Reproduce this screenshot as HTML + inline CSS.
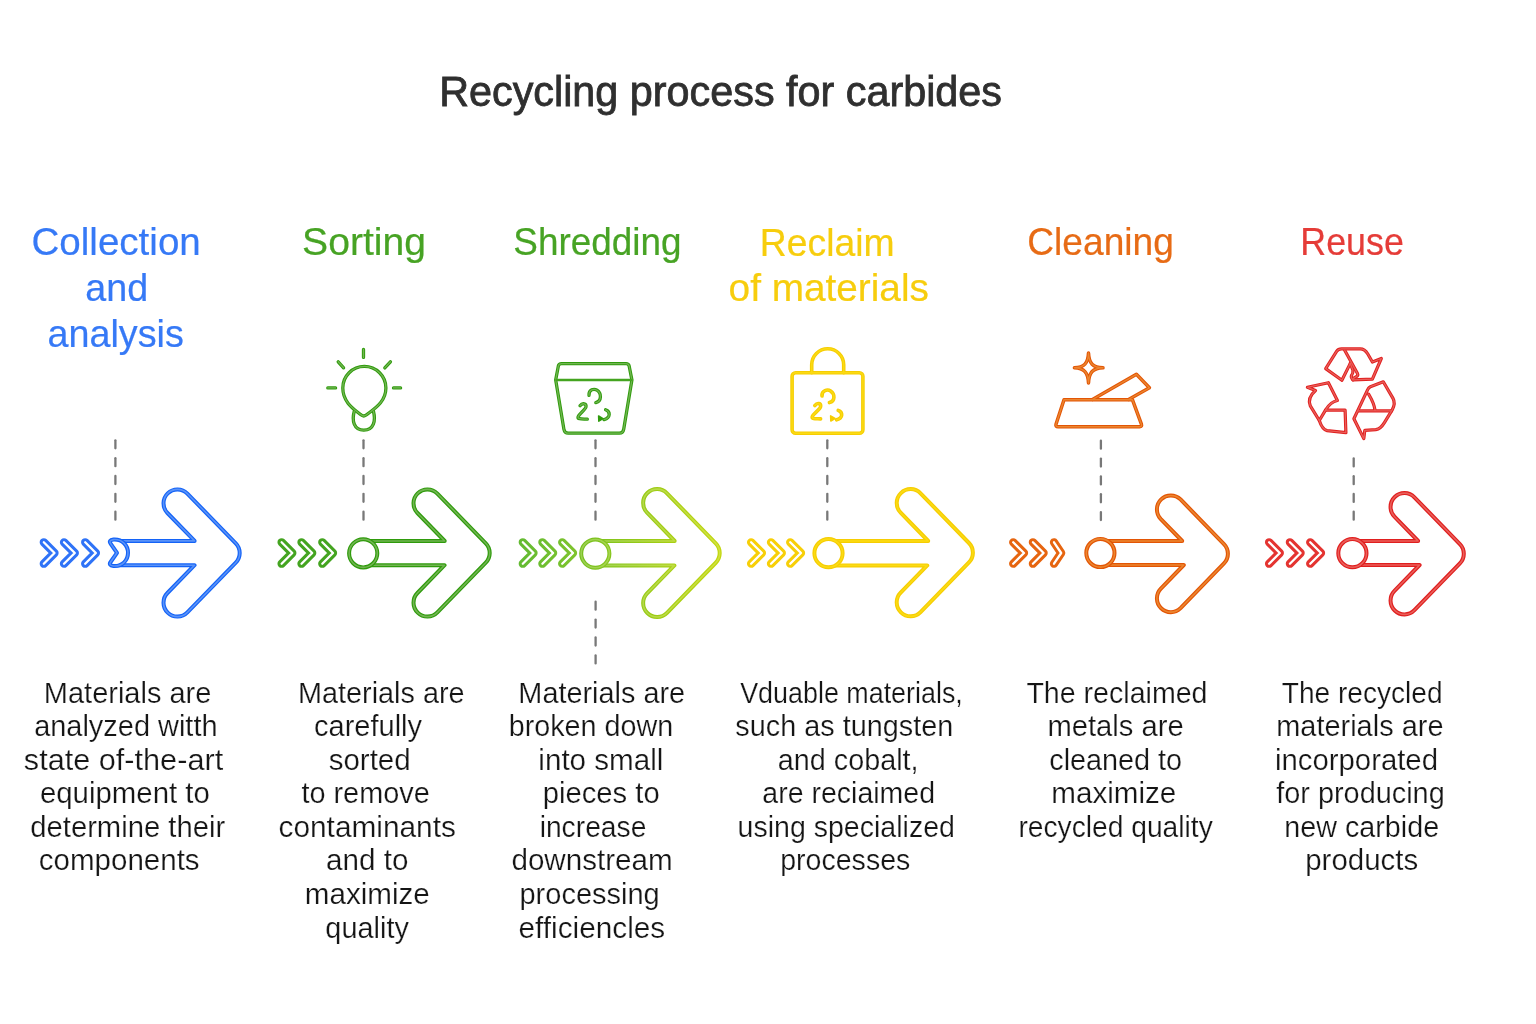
<!DOCTYPE html>
<html lang="en"><head><meta charset="utf-8"><title>Recycling process for carbides</title>
<style>
html,body{margin:0;padding:0;background:#fff;width:1536px;height:1024px;overflow:hidden}
svg{display:block}
text{font-family:"Liberation Sans",sans-serif;white-space:pre}
.ttl{stroke:#2e2e2e;stroke-width:.8px}
.hd{stroke-width:.22px}
.bd{stroke:#fff;stroke-width:.22px}
.shape path,.ic{fill:none;stroke-linecap:round;stroke-linejoin:round}
.dash line{stroke:#787878;stroke-width:2.3;stroke-linecap:round}
</style></head><body>
<svg width="1536" height="1024" viewBox="0 0 1536 1024">
<defs><linearGradient id="g3m" gradientUnits="userSpaceOnUse" x1="518" y1="0" x2="722" y2="0"><stop offset="0" stop-color="#62ba32"/><stop offset="0.45" stop-color="#8fc92a"/><stop offset="1" stop-color="#c6d81c"/></linearGradient>
<linearGradient id="g3" gradientUnits="userSpaceOnUse" x1="518" y1="0" x2="722" y2="0"><stop offset="0" stop-color="#52b222"/><stop offset="0.45" stop-color="#85c51c"/><stop offset="1" stop-color="#c2d60c"/></linearGradient>
<linearGradient id="g3c" gradientUnits="userSpaceOnUse" x1="518" y1="0" x2="722" y2="0"><stop offset="0" stop-color="#83c85a"/><stop offset="0.45" stop-color="#a6d44e"/><stop offset="1" stop-color="#d2e23e"/></linearGradient>
<g id="i1">
<path d="M363.5 349.5V357.4M338.2 361.8L343.6 367.8M390.4 361.8L384.8 367.9M327.8 387.9H335.6M393.5 387.9H400.6"/>
<path d="M360.6 414.6Q363.7 417.3 366.9 414.6C373 409.5 385.9 402.5 385.9 388A21.5 21.5 0 0 0 342.8 388C342.8 402.5 354.5 409.5 360.6 414.6Z"/>
<path d="M354.2 411.5C351.8 420.5 353.6 430.2 363.8 430.2C374 430.2 375.8 420.5 373.5 411.5"/>
</g>
<g id="i2">
<path d="M561.5 363.7H626Q628.6 363.7 629.2 366.2L631.9 379.9L623.7 429.3Q623 433.2 619.4 433.2H568.2Q564.6 433.2 563.9 429.3L555.7 379.9L558.3 366.2Q558.9 363.7 561.5 363.7Z"/>
<path d="M589 395.3C588.6 389.5 594 388.3 597 390.2C601.5 393 602 401.2 595.8 402.6"/>
<path d="M580 405.8C582.5 402.5 586.5 403.5 586 406.8C585.5 410 578.5 414 578 417.2C577.7 419.3 582 418.9 587.3 419.2"/>
<path d="M605.6 409.8C610.5 411.5 610.8 417.8 604 419.6"/>
</g>
<g id="i3">
<rect x="792.1" y="372.7" width="70.8" height="60.6" rx="3.5"/>
<path d="M811.7 372.7V364.8A16 16 0 0 1 843.7 364.8V372.7"/>
<path d="M822 396C821.6 390.2 827.6 389 830.6 391C835 394 835.4 401.2 829.4 402.6"/>
<path d="M814.8 405.6C817.3 402.3 821.2 403.3 820.6 406.6C820 409.8 812.6 414 812.2 417C811.9 419 816 418.6 820.6 418.9"/>
<path d="M838.2 410.4C843 412.2 843.2 418 836.6 419.8"/>
</g>
<g id="i4">
<path d="M1064 399.7H1132.4L1141.4 424.2Q1142.2 426.7 1139.6 426.7H1058Q1055.4 426.7 1056 424.2Z"/>
<path d="M1092.5 399.5L1136.4 374.3L1149.4 387.8L1128.6 399.5"/>
<path d="M1088.5 353C1089 363.5 1092.8 367.3 1103 367.8C1092.8 368.3 1089 372.3 1088.5 383C1088 372.3 1084.2 368.3 1074.4 367.8C1084.2 367.3 1088 363.5 1088.5 353Z"/>
</g>
<g id="i5">
<path d="M1350.3 363.4L1341.9 380.3L1325.7 368.6L1336.6 351.4Q1338.2 348.9 1341.5 348.9H1360.2C1364.2 348.9 1366 351 1367.8 354L1372.4 362L1381.3 358.5L1372.4 379.1L1352.9 379.8"/>
<path d="M1344.7 350.3L1357.5 373.6Q1358.4 375.4 1356.4 376.6L1353.4 378.4"/>
<path d="M1350.3 363.4L1352.9 370.2Q1353.3 373 1351.6 375.2Q1350.6 377.6 1352.9 379.8"/>
<path d="M1307.4 387.3L1328.4 382.7L1337.4 400.5C1332.2 401.4 1328.4 405.3 1325.5 410.1L1319.3 420.5L1310.3 405.9C1308.2 400.8 1310.3 395 1315.5 390.5Z"/>
<path d="M1325.5 410.1H1345.1L1345.9 432.7L1327.1 430.6C1323.2 429.8 1321.3 426.6 1319.3 420.5"/>
<path d="M1383.3 381.8L1370.4 386.7Q1368.6 387.6 1367.8 389.4L1353.9 418.7L1363.8 438.6L1364.8 430.4L1375.8 429.7C1380 429 1382.6 425.6 1384.4 422.6L1392.2 409.9C1394.2 406.2 1395.4 402.6 1393 398.4Z"/>
<path d="M1358.7 410.9H1391.5M1368.6 394.1C1371.2 398.6 1374 403 1375.1 410.4"/>
</g>
</defs>
<rect width="1536" height="1024" fill="#fff"/>
<g class="dash">
<line x1="115.4" y1="440.30" x2="115.4" y2="448.30"/>
<line x1="115.4" y1="458.15" x2="115.4" y2="466.15"/>
<line x1="115.4" y1="476.00" x2="115.4" y2="484.00"/>
<line x1="115.4" y1="493.85" x2="115.4" y2="501.85"/>
<line x1="115.4" y1="511.70" x2="115.4" y2="519.70"/>
<line x1="363.5" y1="440.30" x2="363.5" y2="448.30"/>
<line x1="363.5" y1="458.15" x2="363.5" y2="466.15"/>
<line x1="363.5" y1="476.00" x2="363.5" y2="484.00"/>
<line x1="363.5" y1="493.85" x2="363.5" y2="501.85"/>
<line x1="363.5" y1="511.70" x2="363.5" y2="519.70"/>
<line x1="595.5" y1="440.30" x2="595.5" y2="448.30"/>
<line x1="595.5" y1="458.15" x2="595.5" y2="466.15"/>
<line x1="595.5" y1="476.00" x2="595.5" y2="484.00"/>
<line x1="595.5" y1="493.85" x2="595.5" y2="501.85"/>
<line x1="595.5" y1="511.70" x2="595.5" y2="519.70"/>
<line x1="827.3" y1="440.30" x2="827.3" y2="448.30"/>
<line x1="827.3" y1="458.15" x2="827.3" y2="466.15"/>
<line x1="827.3" y1="476.00" x2="827.3" y2="484.00"/>
<line x1="827.3" y1="493.85" x2="827.3" y2="501.85"/>
<line x1="827.3" y1="511.70" x2="827.3" y2="519.70"/>
<line x1="1100.9" y1="440.70" x2="1100.9" y2="448.70"/>
<line x1="1100.9" y1="458.55" x2="1100.9" y2="466.55"/>
<line x1="1100.9" y1="476.40" x2="1100.9" y2="484.40"/>
<line x1="1100.9" y1="494.25" x2="1100.9" y2="502.25"/>
<line x1="1100.9" y1="512.10" x2="1100.9" y2="520.10"/>
<line x1="1353.7" y1="458.40" x2="1353.7" y2="466.40"/>
<line x1="1353.7" y1="476.15" x2="1353.7" y2="484.15"/>
<line x1="1353.7" y1="493.90" x2="1353.7" y2="501.90"/>
<line x1="1353.7" y1="511.65" x2="1353.7" y2="519.65"/>
<line x1="595.6" y1="601.70" x2="595.6" y2="609.70"/>
<line x1="595.6" y1="619.60" x2="595.6" y2="627.60"/>
<line x1="595.6" y1="637.50" x2="595.6" y2="645.50"/>
<line x1="595.6" y1="655.40" x2="595.6" y2="663.40"/>
</g>
<g class="shape">
<path d="M116.00 540.90 L194.61 540.90 L167.44 513.00 A13.90 13.90 0 0 1 187.36 493.60 L235.76 543.30 A13.90 13.90 0 0 1 235.76 562.70 L187.36 612.40 A13.90 13.90 0 0 1 167.44 593.00 L194.52 565.20 L116.00 565.20" stroke="#1463f7" stroke-width="4.00"/>
<path d="M363.20 541.00 L444.71 541.00 L417.44 513.00 A13.90 13.90 0 0 1 437.36 493.60 L485.76 543.30 A13.90 13.90 0 0 1 485.76 562.70 L437.36 612.40 A13.90 13.90 0 0 1 417.44 593.00 L444.52 565.20 L363.20 565.20" stroke="#2f9b0c" stroke-width="4.00"/>
<path d="M595.30 541.00 L674.66 541.00 L647.09 512.70 A13.90 13.90 0 0 1 667.01 493.30 L715.76 543.35 A13.90 13.90 0 0 1 715.76 562.75 L667.01 612.80 A13.90 13.90 0 0 1 647.09 593.40 L674.37 565.40 L595.30 565.40" stroke="url(#g3)" stroke-width="4.00"/>
<path d="M828.50 541.00 L928.20 541.00 L900.64 512.70 A13.90 13.90 0 0 1 920.56 493.30 L968.96 543.00 A13.90 13.90 0 0 1 968.96 562.40 L920.56 612.10 A13.90 13.90 0 0 1 900.64 592.70 L927.23 565.40 L828.50 565.40" stroke="#f6cd02" stroke-width="4.00"/>
<path d="M1100.40 541.00 L1182.20 541.00 L1160.63 518.78 A13.90 13.90 0 0 1 1180.57 499.42 L1223.97 544.12 A13.90 13.90 0 0 1 1223.97 563.48 L1180.57 608.18 A13.90 13.90 0 0 1 1160.63 588.82 L1183.75 565.00 L1100.40 565.00" stroke="#e35505" stroke-width="4.00"/>
<path d="M1352.40 541.00 L1418.12 541.00 L1394.48 516.69 A13.90 13.90 0 0 1 1414.42 497.31 L1459.87 544.06 A13.90 13.90 0 0 1 1459.87 563.44 L1414.42 610.19 A13.90 13.90 0 0 1 1394.48 590.81 L1419.58 565.00 L1352.40 565.00" stroke="#e01f1f" stroke-width="4.00"/>
<path d="M116.00 540.90 L194.61 540.90 L167.44 513.00 A13.90 13.90 0 0 1 187.36 493.60 L235.76 543.30 A13.90 13.90 0 0 1 235.76 562.70 L187.36 612.40 A13.90 13.90 0 0 1 167.44 593.00 L194.52 565.20 L116.00 565.20" stroke="#5a93f8" stroke-width="1.60"/>
<path d="M363.20 541.00 L444.71 541.00 L417.44 513.00 A13.90 13.90 0 0 1 437.36 493.60 L485.76 543.30 A13.90 13.90 0 0 1 485.76 562.70 L437.36 612.40 A13.90 13.90 0 0 1 417.44 593.00 L444.52 565.20 L363.20 565.20" stroke="#72b552" stroke-width="1.60"/>
<path d="M595.30 541.00 L674.66 541.00 L647.09 512.70 A13.90 13.90 0 0 1 667.01 493.30 L715.76 543.35 A13.90 13.90 0 0 1 715.76 562.75 L667.01 612.80 A13.90 13.90 0 0 1 647.09 593.40 L674.37 565.40 L595.30 565.40" stroke="url(#g3c)" stroke-width="1.60"/>
<path d="M828.50 541.00 L928.20 541.00 L900.64 512.70 A13.90 13.90 0 0 1 920.56 493.30 L968.96 543.00 A13.90 13.90 0 0 1 968.96 562.40 L920.56 612.10 A13.90 13.90 0 0 1 900.64 592.70 L927.23 565.40 L828.50 565.40" stroke="#fbdb14" stroke-width="1.60"/>
<path d="M1100.40 541.00 L1182.20 541.00 L1160.63 518.78 A13.90 13.90 0 0 1 1180.57 499.42 L1223.97 544.12 A13.90 13.90 0 0 1 1223.97 563.48 L1180.57 608.18 A13.90 13.90 0 0 1 1160.63 588.82 L1183.75 565.00 L1100.40 565.00" stroke="#eb8630" stroke-width="1.60"/>
<path d="M1352.40 541.00 L1418.12 541.00 L1394.48 516.69 A13.90 13.90 0 0 1 1414.42 497.31 L1459.87 544.06 A13.90 13.90 0 0 1 1459.87 563.44 L1414.42 610.19 A13.90 13.90 0 0 1 1394.48 590.81 L1419.58 565.00 L1352.40 565.00" stroke="#ea5f5a" stroke-width="1.60"/>
<path d="M43.8 542.3 L54.5 553.0 L43.8 563.7" stroke="#2f73f7" stroke-width="8.30"/>
<path d="M64.0 542.3 L74.8 553.0 L64.0 563.7" stroke="#2f73f7" stroke-width="8.30"/>
<path d="M85.2 542.3 L95.9 553.0 L85.2 563.7" stroke="#2f73f7" stroke-width="8.30"/>
<path d="M281.6 542.3 L292.3 553.0 L281.6 563.7" stroke="#44a420" stroke-width="8.30"/>
<path d="M301.5 542.3 L312.2 553.0 L301.5 563.7" stroke="#44a420" stroke-width="8.30"/>
<path d="M322.3 542.3 L333.0 553.0 L322.3 563.7" stroke="#44a420" stroke-width="8.30"/>
<path d="M522.8 542.3 L533.5 553.0 L522.8 563.7" stroke="url(#g3m)" stroke-width="8.30"/>
<path d="M542.4 542.3 L553.1 553.0 L542.4 563.7" stroke="url(#g3m)" stroke-width="8.30"/>
<path d="M562.2 542.3 L573.0 553.0 L562.2 563.7" stroke="url(#g3m)" stroke-width="8.30"/>
<path d="M751.1 542.3 L761.9 553.0 L751.1 563.7" stroke="#f7cf08" stroke-width="8.30"/>
<path d="M771.0 542.3 L781.8 553.0 L771.0 563.7" stroke="#f7cf08" stroke-width="8.30"/>
<path d="M790.2 542.3 L801.0 553.0 L790.2 563.7" stroke="#f7cf08" stroke-width="8.30"/>
<path d="M1013.2 542.3 L1024.0 553.0 L1013.2 563.7" stroke="#e66510" stroke-width="8.30"/>
<path d="M1032.9 542.3 L1043.6 553.0 L1032.9 563.7" stroke="#e66510" stroke-width="8.30"/>
<path d="M1054.0 542.3 L1061.2 553.0 L1054.0 563.7" stroke="#e66510" stroke-width="8.30"/>
<path d="M1269.1 542.3 L1279.8 553.0 L1269.1 563.7" stroke="#e43431" stroke-width="8.30"/>
<path d="M1289.9 542.3 L1300.6 553.0 L1289.9 563.7" stroke="#e43431" stroke-width="8.30"/>
<path d="M1310.2 542.3 L1321.0 553.0 L1310.2 563.7" stroke="#e43431" stroke-width="8.30"/>
<path d="M43.8 542.3 L54.5 553.0 L43.8 563.7" stroke="#fff" stroke-width="2.30"/>
<path d="M64.0 542.3 L74.8 553.0 L64.0 563.7" stroke="#fff" stroke-width="2.30"/>
<path d="M85.2 542.3 L95.9 553.0 L85.2 563.7" stroke="#fff" stroke-width="2.30"/>
<path d="M281.6 542.3 L292.3 553.0 L281.6 563.7" stroke="#fff" stroke-width="2.30"/>
<path d="M301.5 542.3 L312.2 553.0 L301.5 563.7" stroke="#fff" stroke-width="2.30"/>
<path d="M322.3 542.3 L333.0 553.0 L322.3 563.7" stroke="#fff" stroke-width="2.30"/>
<path d="M522.8 542.3 L533.5 553.0 L522.8 563.7" stroke="#fff" stroke-width="2.30"/>
<path d="M542.4 542.3 L553.1 553.0 L542.4 563.7" stroke="#fff" stroke-width="2.30"/>
<path d="M562.2 542.3 L573.0 553.0 L562.2 563.7" stroke="#fff" stroke-width="2.30"/>
<path d="M751.1 542.3 L761.9 553.0 L751.1 563.7" stroke="#fff" stroke-width="2.30"/>
<path d="M771.0 542.3 L781.8 553.0 L771.0 563.7" stroke="#fff" stroke-width="2.30"/>
<path d="M790.2 542.3 L801.0 553.0 L790.2 563.7" stroke="#fff" stroke-width="2.30"/>
<path d="M1013.2 542.3 L1024.0 553.0 L1013.2 563.7" stroke="#fff" stroke-width="2.30"/>
<path d="M1032.9 542.3 L1043.6 553.0 L1032.9 563.7" stroke="#fff" stroke-width="2.30"/>
<path d="M1054.0 542.3 L1061.2 553.0 L1054.0 563.7" stroke="#fff" stroke-width="2.30"/>
<path d="M1269.1 542.3 L1279.8 553.0 L1269.1 563.7" stroke="#fff" stroke-width="2.30"/>
<path d="M1289.9 542.3 L1300.6 553.0 L1289.9 563.7" stroke="#fff" stroke-width="2.30"/>
<path d="M1310.2 542.3 L1321.0 553.0 L1310.2 563.7" stroke="#fff" stroke-width="2.30"/>
</g>
<g>
<path d="M113.5 539.6 C122.5 539 128 545.5 128 552.8 C128 560 122.5 566.6 113.5 566 Q108.2 565.2 110.6 562 L117 552.8 L110.6 543.6 Q108.2 540.4 113.5 539.6 Z" fill="#fff" stroke="#1463f7" stroke-width="4.0" stroke-linejoin="round"/>
<path d="M113.5 539.6 C122.5 539 128 545.5 128 552.8 C128 560 122.5 566.6 113.5 566 Q108.2 565.2 110.6 562 L117 552.8 L110.6 543.6 Q108.2 540.4 113.5 539.6 Z" fill="none" stroke="#5a93f8" stroke-width="1.60" stroke-linejoin="round"/>
<circle cx="363.2" cy="553.3" r="14.1" fill="#fff" stroke="#2f9b0c" stroke-width="4.0"/>
<circle cx="363.2" cy="553.3" r="14.1" fill="none" stroke="#72b552" stroke-width="1.60"/>
<circle cx="595.3" cy="553.6" r="14.1" fill="#fff" stroke="url(#g3)" stroke-width="4.0"/>
<circle cx="595.3" cy="553.6" r="14.1" fill="none" stroke="url(#g3c)" stroke-width="1.60"/>
<circle cx="828.5" cy="553.2" r="14.1" fill="#fff" stroke="#f6cd02" stroke-width="4.0"/>
<circle cx="828.5" cy="553.2" r="14.1" fill="none" stroke="#fbdb14" stroke-width="1.60"/>
<circle cx="1100.4" cy="553.0" r="14.1" fill="#fff" stroke="#e35505" stroke-width="4.0"/>
<circle cx="1100.4" cy="553.0" r="14.1" fill="none" stroke="#eb8630" stroke-width="1.60"/>
<circle cx="1352.4" cy="553.2" r="14.1" fill="#fff" stroke="#e01f1f" stroke-width="4.0"/>
<circle cx="1352.4" cy="553.2" r="14.1" fill="none" stroke="#ea5f5a" stroke-width="1.60"/>
</g>
<g class="ic">
<use href="#i1" stroke="#2f9b0c" stroke-width="3.3"/>
<use href="#i1" stroke="#72b552" stroke-width="1.32"/>
<use href="#i2" stroke="#2f9b0c" stroke-width="3.3"/>
<use href="#i2" stroke="#72b552" stroke-width="1.32"/>
<use href="#i3" stroke="#f6cd02" stroke-width="3.6"/>
<use href="#i3" stroke="#fbdb14" stroke-width="1.44"/>
<use href="#i4" stroke="#e35505" stroke-width="3.5"/>
<use href="#i4" stroke="#eb8630" stroke-width="1.40"/>
<use href="#i5" stroke="#e01f1f" stroke-width="3.2"/>
<use href="#i5" stroke="#ea5f5a" stroke-width="1.28"/>
<path d="M556.5 379.9H631.1" stroke="#44a420" stroke-width="2.5"/>
<path d="M598.6 416L598.8 421.2L603 418.7Z" fill="#2f9b0c" stroke="#2f9b0c" stroke-width="1.5"/>
<path d="M830.6 415.8L830.8 421L835 418.5Z" fill="#f6cd02" stroke="#f6cd02" stroke-width="1.5"/>
</g>
<g opacity="0.995">
<text class="ttl" fill="#2e2e2e" font-size="42" transform="translate(439.15 106.00) scale(0.9847 1)">Recycling process for carbides</text>
<text class="hd" fill="#3578f6" stroke="#3578f6" font-size="38.5" transform="translate(31.50 255.30) scale(1.0015 1)">Collection</text>
<text class="hd" fill="#3578f6" stroke="#3578f6" font-size="38.5" transform="translate(85.23 301.40) scale(0.9793 1)">and</text>
<text class="hd" fill="#3578f6" stroke="#3578f6" font-size="38.5" transform="translate(47.43 346.90) scale(0.9813 1)">analysis</text>
<text class="hd" fill="#46a323" stroke="#46a323" font-size="38.5" transform="translate(302.12 254.50) scale(1.0157 1)">Sorting</text>
<text class="hd" fill="#46a323" stroke="#46a323" font-size="38.5" transform="translate(513.32 254.50) scale(0.9588 1)">Shredding</text>
<text class="hd" fill="#f7cd0c" stroke="#f7cd0c" font-size="38.5" transform="translate(759.79 256.40) scale(0.9700 1)">Reclaim</text>
<text class="hd" fill="#f7cd0c" stroke="#f7cd0c" font-size="38.5" transform="translate(728.59 301.00) scale(1.0069 1)">of materials</text>
<text class="hd" fill="#e76a14" stroke="#e76a14" font-size="38.5" transform="translate(1027.27 254.50) scale(0.9647 1)">Cleaning</text>
<text class="hd" fill="#e53b37" stroke="#e53b37" font-size="38.5" transform="translate(1300.31 254.50) scale(0.9302 1)">Reuse</text>
<text class="bd" fill="#141414" font-size="29" transform="translate(43.85 702.80) scale(0.9997 1)">Materials are</text>
<text class="bd" fill="#141414" font-size="29" transform="translate(34.15 736.20) scale(0.9981 1)">analyzed witth</text>
<text class="bd" fill="#141414" font-size="29" transform="translate(23.81 769.80) scale(1.0578 1)">state of-the-art</text>
<text class="bd" fill="#141414" font-size="29" transform="translate(39.93 803.20) scale(1.0142 1)">equipment to</text>
<text class="bd" fill="#141414" font-size="29" transform="translate(30.24 836.90) scale(1.0086 1)">determine their</text>
<text class="bd" fill="#141414" font-size="29" transform="translate(38.83 870.30) scale(1.0183 1)">components</text>
<text class="bd" fill="#141414" font-size="29" transform="translate(297.96 702.80) scale(0.9942 1)">Materials are</text>
<text class="bd" fill="#141414" font-size="29" transform="translate(314.05 736.20) scale(1.0005 1)">carefully</text>
<text class="bd" fill="#141414" font-size="29" transform="translate(328.64 769.80) scale(1.0179 1)">sorted</text>
<text class="bd" fill="#141414" font-size="29" transform="translate(301.40 803.20) scale(0.9957 1)">to remove</text>
<text class="bd" fill="#141414" font-size="29" transform="translate(278.51 836.90) scale(1.0291 1)">contaminants</text>
<text class="bd" fill="#141414" font-size="29" transform="translate(326.12 870.30) scale(1.0211 1)">and to</text>
<text class="bd" fill="#141414" font-size="29" transform="translate(304.76 903.80) scale(1.0214 1)">maximize</text>
<text class="bd" fill="#141414" font-size="29" transform="translate(325.35 937.60) scale(0.9964 1)">quality</text>
<text class="bd" fill="#141414" font-size="29" transform="translate(518.36 702.80) scale(0.9954 1)">Materials are</text>
<text class="bd" fill="#141414" font-size="29" transform="translate(508.67 736.20) scale(0.9908 1)">broken down</text>
<text class="bd" fill="#141414" font-size="29" transform="translate(538.36 769.80) scale(1.0211 1)">into small</text>
<text class="bd" fill="#141414" font-size="29" transform="translate(542.64 803.20) scale(1.0084 1)">pieces to</text>
<text class="bd" fill="#141414" font-size="29" transform="translate(539.65 836.90) scale(0.9737 1)">increase</text>
<text class="bd" fill="#141414" font-size="29" transform="translate(511.42 870.30) scale(1.0216 1)">downstream</text>
<text class="bd" fill="#141414" font-size="29" transform="translate(519.45 903.80) scale(1.0007 1)">processing</text>
<text class="bd" fill="#141414" font-size="29" transform="translate(518.52 937.60) scale(1.0266 1)">efficiencles</text>
<text class="bd" fill="#141414" font-size="29" transform="translate(740.17 702.80) scale(0.9276 1)">Vduable materials,</text>
<text class="bd" fill="#141414" font-size="29" transform="translate(735.35 736.20) scale(0.9942 1)">such as tungsten</text>
<text class="bd" fill="#141414" font-size="29" transform="translate(777.86 769.80) scale(0.9920 1)">and cobalt,</text>
<text class="bd" fill="#141414" font-size="29" transform="translate(762.37 803.20) scale(0.9832 1)">are reciaimed</text>
<text class="bd" fill="#141414" font-size="29" transform="translate(737.58 836.90) scale(0.9841 1)">using specialized</text>
<text class="bd" fill="#141414" font-size="29" transform="translate(780.18 870.30) scale(0.9853 1)">processes</text>
<text class="bd" fill="#141414" font-size="29" transform="translate(1026.41 702.80) scale(0.9859 1)">The reclaimed</text>
<text class="bd" fill="#141414" font-size="29" transform="translate(1047.39 736.20) scale(1.0072 1)">metals are</text>
<text class="bd" fill="#141414" font-size="29" transform="translate(1049.26 769.80) scale(0.9932 1)">cleaned to</text>
<text class="bd" fill="#141414" font-size="29" transform="translate(1051.26 803.20) scale(1.0214 1)">maximize</text>
<text class="bd" fill="#141414" font-size="29" transform="translate(1018.46 836.90) scale(0.9724 1)">recycled quality</text>
<text class="bd" fill="#141414" font-size="29" transform="translate(1281.82 702.80) scale(0.9685 1)">The recycled</text>
<text class="bd" fill="#141414" font-size="29" transform="translate(1276.20 736.20) scale(0.9982 1)">materials are</text>
<text class="bd" fill="#141414" font-size="29" transform="translate(1274.98 769.80) scale(1.0111 1)">incorporated</text>
<text class="bd" fill="#141414" font-size="29" transform="translate(1276.25 803.20) scale(0.9955 1)">for producing</text>
<text class="bd" fill="#141414" font-size="29" transform="translate(1284.22 836.90) scale(0.9912 1)">new carbide</text>
<text class="bd" fill="#141414" font-size="29" transform="translate(1305.22 870.30) scale(1.0166 1)">products</text>
</g>
</svg>
</body></html>
